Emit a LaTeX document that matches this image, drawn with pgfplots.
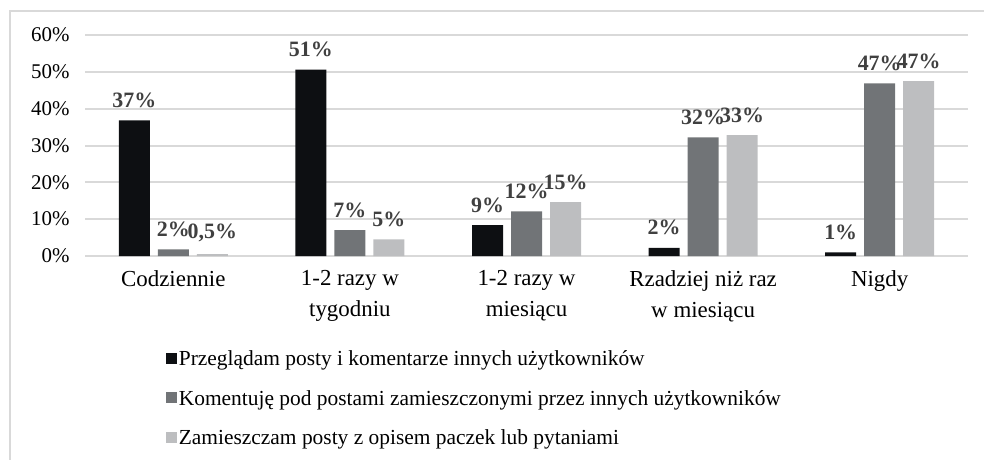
\documentclass[border=0pt]{standalone}
\usepackage{pgfplots}
\pgfplotsset{compat=1.18}
\usepackage{fontspec}
\setmainfont{Liberation Serif}
\definecolor{cA}{HTML}{0D0F12}
\definecolor{cB}{HTML}{717477}
\definecolor{cC}{HTML}{BDBEC0}
\definecolor{gridc}{HTML}{D9D9D9}
\definecolor{lab}{HTML}{404040}
\begin{document}
\begin{tikzpicture}
\useasboundingbox (0,0) rectangle (984bp,460bp);
\draw[gridc, line width=2bp] (10bp,0) -- (10bp,449bp) -- (984bp,449bp);
\begin{axis}[
  at={(85bp,204bp)}, anchor=south west,
  scale only axis, width=883bp, height=221bp,
  ybar=8bp, bar width=31bp,
  xmin=-0.5, xmax=4.5, ymin=0, ymax=60,
  ytick={0,10,20,30,40,50,60},
  yticklabel={\pgfmathprintnumber{\tick}\%},
  /pgf/number format/assume math mode=true,
  xtick={0,1,2,3,4},
  xticklabels={Codziennie,{1-2 razy w\\tygodniu},{1-2 razy w\\miesiącu},{Rzadziej niż raz\\w miesiącu},Nigdy},
  xticklabel style={align=center, font=\fontsize{23}{31}\selectfont, yshift=-11bp},
  yticklabel style={font=\fontsize{21}{25}\selectfont, xshift=-12bp},
  axis line style={draw=none},
  major tick length=0pt,
  ymajorgrids, grid style={gridc, line width=2bp},
  nodes near coords,
  point meta=explicit symbolic,
  every node near coord/.append style={font=\bfseries\fontsize{22}{25}\selectfont, text=lab, inner sep=0.5bp, yshift=12bp},
  legend style={at={(0.088,-0.41)}, anchor=north west, draw=none, fill=none,
     font=\fontsize{21.5}{25}\selectfont, row sep=19bp, cells={anchor=west}},
  legend cell align=left,
  legend image code/.code={\fill[#1] (-4bp,-5bp) rectangle (7bp,6bp);},
  clip=false,
]
\addplot[fill=cA, draw=none] coordinates {(0,36.8) [37\%] (1,50.6) [51\%] (2,8.4) [9\%] (3,2.2) [2\%] (4,1.0) [1\%]};
\addplot[fill=cB, draw=none] coordinates {(0,1.8) [2\%] (1,7.0) [7\%] (2,12.1) [12\%] (3,32.2) [32\%] (4,46.9) [47\%]};
\addplot[fill=cC, draw=none] coordinates {(0,0.5) [0,5\%] (1,4.5) [5\%] (2,14.6) [15\%] (3,32.8) [33\%] (4,47.5) [47\%]};
\legend{Przeglądam posty i komentarze innych użytkowników,Komentuję pod postami zamieszczonymi przez innych użytkowników,Zamieszczam posty z opisem paczek lub pytaniami}
\end{axis}
\end{tikzpicture}
\end{document}
